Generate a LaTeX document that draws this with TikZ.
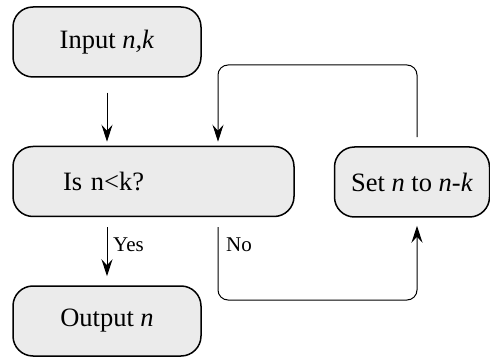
\documentclass[tikz,border=0pt]{standalone}
\usepackage{fontspec}
\setmainfont{Liberation Serif}
\usetikzlibrary{arrows.meta}
\definecolor{boxgray}{RGB}{235,235,235}

\begin{document}
\begin{tikzpicture}[x=1pt,y=-1pt,
        box/.style={draw, line width=1.5pt, fill=boxgray, rounded corners=20pt,
            minimum height=70pt, inner sep=0pt, font=\fontsize{26.5}{30}\selectfont},
        link/.style={line width=1pt, rounded corners=10pt,
            -{Stealth[length=17pt,width=11pt,inset=6pt]}},
        tag/.style={anchor=west, inner sep=0pt, font=\fontsize{21}{24}\selectfont}]
                \useasboundingbox (0,0) rectangle (490,358);
                % boxes
                \node[box, minimum width=188pt] (input) at (107,42) {Input \textit{n,k}};
                \node[box, minimum width=281pt, text width=181pt, inner xsep=50pt, align=left] (isnk) at (153.5,181.5) {Is n<k?};
                \node[box, minimum width=155pt] (set) at (412,182) {Set \textit{n} to \textit{n-k}};
                \node[box, minimum width=188pt] (output) at (107,321) {Output \textit{n}};
                % turning points of the loop
                \coordinate (back) at (417,65);
                \coordinate (low) at (417,300);
                \coordinate (no) at (218,0);
                % connectors
                \draw[link, shorten <=15pt, shorten >=4pt] (input.south) -- (isnk.north -| input);
                \draw[link, shorten <=9pt, shorten >=4pt] (set.north -| back) -- (back) -| (no |- isnk.north);
                \draw[link, shorten <=10pt, shorten >=9pt] (isnk.south -| input) -- (output.north);
                \draw[link, shorten <=10pt, shorten >=8pt] (no |- isnk.south) |- (low) -- (set.south -| low);
                \node[tag] (yes) at (113,245) {Yes};
                \node[tag] (nolabel) at (226,245) {No};
            \end{tikzpicture}
\end{document}
